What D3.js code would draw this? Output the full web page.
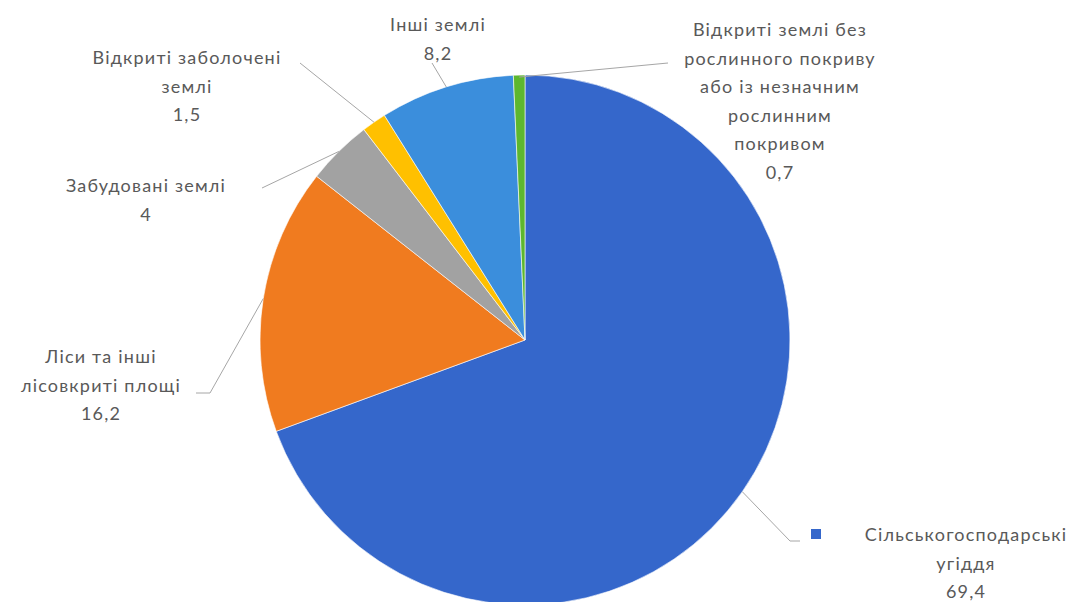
<!DOCTYPE html>
<html>
<head>
<meta charset="utf-8">
<script src="https://cdn.jsdelivr.net/npm/d3@7"></script>
<style>
  body { margin: 0; background: #fff; }
  svg text { font-family: Lato, "Open Sans", sans-serif; fill: #595959; }
</style>
</head>
<body>
<svg id="chart" width="1078" height="602"></svg>
<script>
// Data (clockwise from 12 o'clock)
const categories = [
  "Сільськогосподарські угіддя",
  "Ліси та інші лісовкриті площі",
  "Забудовані землі",
  "Відкриті заболочені землі",
  "Інші землі",
  "Відкриті землі без рослинного покриву або із незначним рослинним покривом",
];
const values = [69.4, 16.2, 4, 1.5, 8.2, 0.7];
const valueLabels = ["69,4", "16,2", "4", "1,5", "8,2", "0,7"];
const labelLines = [
  ["Сільськогосподарські", "угіддя"],
  ["Ліси та інші", "лісовкриті площі"],
  ["Забудовані землі"],
  ["Відкриті заболочені", "землі"],
  ["Інші землі"],
  ["Відкриті землі без", "рослинного покриву", "або із незначним", "рослинним", "покривом"],
];

// Colors
const COLORS = ["#3567CB", "#F07B1F", "#A2A2A2", "#FFC000", "#3B8EDC", "#5DB72E"];

// Layout
const CENTER = { x: 525, y: 340 };
const RADIUS = 265;
const LINE_H = 28.5;
const FONT_SIZE = "18px";
const LETTER_SPACING = "1.2px";

// label block centre x, first baseline y, leader start point, leader elbow
const LABEL_POS = [
  { x: 966, y: 541, lead: [800, 541], elbow: [790, 541], key: true },
  { x: 101, y: 363, lead: [196, 393], elbow: [210, 393] },
  { x: 146, y: 192, lead: [262, 188], elbow: null },
  { x: 187, y: 64, lead: [300, 63], elbow: null },
  { x: 438, y: 31, lead: [432, 63], elbow: null },
  { x: 780, y: 36, lead: [668, 63], elbow: null },
];

const svg = d3.select("#chart");
const g = svg.append("g").attr("transform", `translate(${CENTER.x}, ${CENTER.y})`);

const pie = d3.pie().sort(null).value((d) => d);
const arcs = pie(values);

const arc = d3.arc().innerRadius(0).outerRadius(RADIUS);
const edgeArc = d3.arc().innerRadius(RADIUS).outerRadius(RADIUS);

g.selectAll(".slice")
  .data(arcs)
  .enter()
  .append("path")
  .attr("class", "slice")
  .attr("d", arc)
  .attr("fill", (d, i) => COLORS[i])
  .attr("stroke", "#fff")
  .attr("stroke-width", 0.6);

// Leader lines
arcs.forEach((d, i) => {
  const p = LABEL_POS[i];
  const edge = edgeArc.centroid(d);
  const ex = CENTER.x + edge[0];
  const ey = CENTER.y + edge[1] + (i === 5 ? 2 : 0);
  const pts = [p.lead];
  if (p.elbow) pts.push(p.elbow);
  pts.push([ex, ey]);
  svg.append("path")
    .attr("d", d3.line()(pts))
    .attr("fill", "none")
    .attr("stroke", "#A6A6A6")
    .attr("stroke-width", 1);
});

// Labels
labelLines.forEach((lines, i) => {
  const p = LABEL_POS[i];
  const t = svg.append("text")
    .attr("text-anchor", "middle")
    .style("font-size", FONT_SIZE)
    .style("letter-spacing", LETTER_SPACING);
  lines.concat([valueLabels[i]]).forEach((line, j) => {
    t.append("tspan")
      .attr("x", p.x)
      .attr("y", p.y + j * LINE_H)
      .text(line);
  });
  if (p.key) {
    svg.append("rect")
      .attr("x", 811)
      .attr("y", p.y - 12)
      .attr("width", 10)
      .attr("height", 10)
      .attr("fill", COLORS[i]);
  }
});
</script>
</body>
</html>
